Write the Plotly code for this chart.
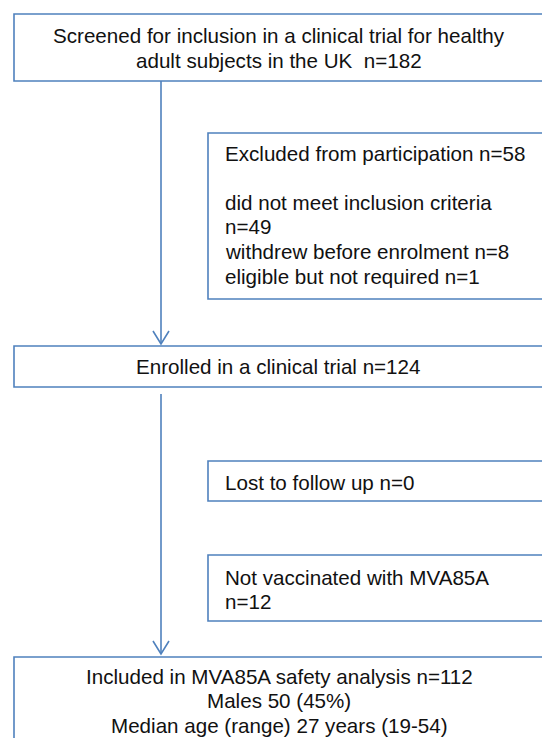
import plotly.graph_objects as go

# ---- data (counts) ----
screened_n = 182
excluded_n = 58
not_meet_criteria_n = 49
withdrew_n = 8
not_required_n = 1
enrolled_n = 124
lost_n = 0
not_vaccinated_n = 12
analysed_n = 112
males_n = 50
males_pct = 45
median_age = 27
age_min = 19
age_max = 54

# ---- text of each box (one entry per line) ----
screened_lines = ["Screened for inclusion in a clinical trial for healthy",
                  f"adult subjects in the UK  n={screened_n}"]
excluded_lines = [f"Excluded from participation n={excluded_n}",
                  "",
                  "did not meet inclusion criteria",
                  f"n={not_meet_criteria_n}",
                  f"withdrew before enrolment n={withdrew_n}",
                  f"eligible but not required n={not_required_n}"]
enrolled_lines = [f"Enrolled in a clinical trial n={enrolled_n}"]
lost_lines = [f"Lost to follow up n={lost_n}"]
notvacc_lines = ["Not vaccinated with MVA85A", f"n={not_vaccinated_n}"]
final_lines = [f"Included in MVA85A safety analysis n={analysed_n}",
               f"Males {males_n} ({males_pct}%)",
               f"Median age (range) {median_age} years ({age_min}-{age_max})"]

# ---- layout geometry (pixels, y downwards) ----
W, H = 542, 738
BLUE = "#4F81BD"
LW = 1.6
FONT = dict(family="Arial, Liberation Sans, sans-serif", size=20.6, color="#111111")
LINE_H = 24.6

# boxes: left, top, bottom, text lines, alignment, first-line centre y, text x
boxes = [
    dict(l=14, t=14, b=81, lines=screened_lines, align="center", y0=35.7, x=279),
    dict(l=208, t=133, b=299, lines=excluded_lines, align="left", y0=153, x=223),
    dict(l=14, t=346, b=387, lines=enrolled_lines, align="center", y0=366, x=278),
    dict(l=208, t=461, b=501, lines=lost_lines, align="left", y0=482, x=223),
    dict(l=208, t=555, b=621, lines=notvacc_lines, align="left", y0=577, x=223),
    dict(l=14, t=657, b=760, lines=final_lines, align="center", y0=676.3, x=279),
]
arrows = [dict(x=161, y0=81, y1=344), dict(x=161, y0=394, y1=654)]

fig = go.Figure()
shapes = []
annotations = []
for bx in boxes:
    R = W + 20
    shapes.append(dict(type="path", xref="x", yref="y",
                       path=f"M {R} {bx['t']} L {bx['l']} {bx['t']} L {bx['l']} {bx['b']} L {R} {bx['b']}",
                       line=dict(color=BLUE, width=LW), fillcolor="rgba(0,0,0,0)"))
    for i, txt in enumerate(bx["lines"]):
        if not txt:
            continue
        annotations.append(dict(x=bx["x"], y=bx["y0"] + i * LINE_H, xref="x", yref="y",
                                text=txt, showarrow=False, font=FONT,
                                xanchor="left" if bx["align"] == "left" else "center",
                                yanchor="middle"))
for a in arrows:
    shapes.append(dict(type="line", xref="x", yref="y", x0=a["x"], x1=a["x"],
                       y0=a["y0"], y1=a["y1"], line=dict(color=BLUE, width=LW)))
    shapes.append(dict(type="path", xref="x", yref="y",
                       path=f"M {a['x']-8} {a['y1']-13} L {a['x']} {a['y1']} L {a['x']+8} {a['y1']-13}",
                       line=dict(color=BLUE, width=LW), fillcolor="rgba(0,0,0,0)"))

fig.update_layout(width=W, height=H, margin=dict(l=0, r=0, t=0, b=0),
                  paper_bgcolor="white", plot_bgcolor="white",
                  shapes=shapes, annotations=annotations, showlegend=False,
                  xaxis=dict(range=[0, W], visible=False, fixedrange=True),
                  yaxis=dict(range=[H, 0], visible=False, fixedrange=True))
fig.write_html("out.html", config={"displayModeBar": False},
               post_script="document.body.style.margin='0';document.body.style.padding='0';"
                           "document.body.style.overflow='hidden';")
